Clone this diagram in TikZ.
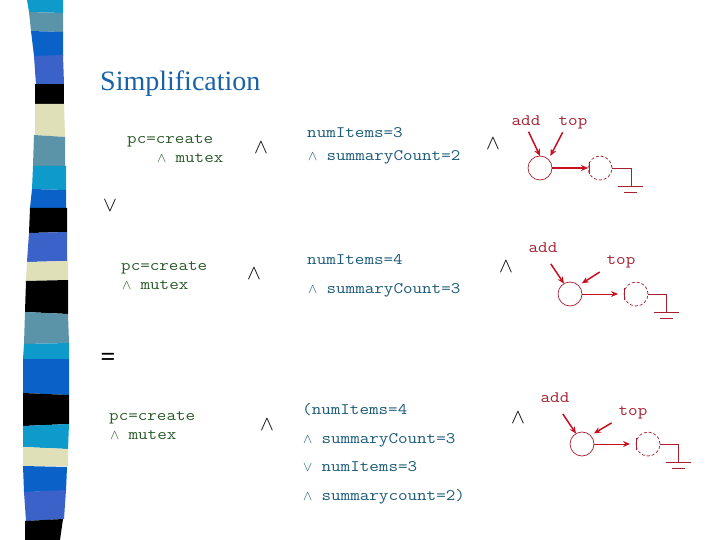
\documentclass[tikz,border=0pt]{standalone}
\usepackage{fontspec}
\setmainfont{Liberation Serif}
\newfontfamily\courf[FakeStretch=1.16]{Latin Modern Mono}
\usetikzlibrary{arrows.meta}
\definecolor{sCyan}{HTML}{0E9ACB}
\definecolor{sSteel}{HTML}{5B93A8}
\definecolor{sBlue}{HTML}{0A62C8}
\definecolor{sIndigo}{HTML}{3A62C8}
\definecolor{sBeige}{HTML}{E0E0B8}
\definecolor{tGreen}{HTML}{2A5A2A}
\definecolor{tTeal}{HTML}{1A5A78}
\definecolor{tTitle}{HTML}{1A62A8}
\definecolor{cRed}{HTML}{A82030}
\definecolor{aRed}{HTML}{C81020}
\newcommand{\wg}{\makebox[19.4pt][l]{\hspace{1pt}\scalebox{0.8}{$\wedge$}}}
\newcommand{\vy}{\makebox[19.4pt][l]{\hspace{1pt}\scalebox{0.8}{$\vee$}}}
\begin{document}
\begin{tikzpicture}[x=1pt,y=-1pt,
  mono/.style={font=\fontsize{16}{16}\selectfont\courf,anchor=base west,inner sep=0pt},
  pctext/.style={mono,text=tGreen},
  numtext/.style={mono,text=tTeal},
  lab/.style={font=\fontsize{16}{16}\selectfont\courf,text=cRed,inner sep=0pt,anchor=base},
  bigop/.style={font=\fontsize{20}{20}\selectfont,inner sep=0pt},
  solidc/.style={circle,draw=cRed,line width=0.7pt,minimum size=24pt,inner sep=0pt,outer sep=0pt},
  dashc/.style={solidc,dash pattern=on 3pt off 2pt},
  arr/.style={draw=aRed,line width=1.5pt,-{Stealth[length=7pt,width=6pt]}},
  wire/.style={draw=cRed,line width=0.7pt}]
\useasboundingbox (0,0) rectangle (720,540);
\fill[white] (0,0) rectangle (720,540);
% stripe
\fill[sCyan]  (27,0) -- (63,0) -- (63,13) -- (29,12) -- cycle;
\fill[sSteel] (29,12) -- (63,13) -- (63,32) -- (31,31) -- cycle;
\fill[sBlue]  (31,31) -- (63,32) -- (63,56) -- (34,56) -- cycle;
\fill[sIndigo](34,56) -- (63,55) -- (64,84) -- (36,85) -- cycle;
\fill[black]  (35,84) -- (64,84) -- (64,104) -- (35,104) -- cycle;
\fill[sBeige] (35,104) -- (64,104) -- (65,137) -- (35,135) -- cycle;
\fill[sSteel] (34,135) -- (65,137) -- (65,166) -- (33,166) -- cycle;
\fill[sCyan]  (33,166) -- (66,166) -- (66,190) -- (32,189) -- cycle;
\fill[sBlue]  (32,189) -- (66,190) -- (66,209) -- (30,208) -- cycle;
\fill[black]  (30,208) -- (67,208) -- (67,232) -- (29,233) -- cycle;
\fill[sIndigo](29,233) -- (67,232) -- (67,261) -- (27,262) -- cycle;
\fill[sBeige] (27,262) -- (68,261) -- (68,280) -- (26,281) -- cycle;
\fill[black]  (26,281) -- (68,280) -- (68,314) -- (25,312) -- cycle;
\fill[sSteel] (25,312) -- (68,314) -- (69,343) -- (24,344) -- cycle;
\fill[sCyan]  (24,344) -- (69,343) -- (69,359) -- (23,359) -- cycle;
\fill[sBlue]  (23,359) -- (69,359) -- (69,395) -- (23,393) -- cycle;
\fill[black]  (23,393) -- (69,395) -- (69,424) -- (23,426) -- cycle;
\fill[sCyan]  (23,426) -- (69,424) -- (68,449) -- (23,447) -- cycle;
\fill[sBeige] (23,447) -- (68,449) -- (68,466) -- (23,466) -- cycle;
\fill[sBlue]  (23,466) -- (67,467) -- (66,491) -- (24,492) -- cycle;
\fill[sIndigo](24,492) -- (66,490) -- (64,519) -- (26,521) -- cycle;
\fill[black]  (25,521) -- (63,519) -- (60,540) -- (25,540) -- cycle;
% title
\node[font=\fontsize{28}{28}\selectfont,text=tTitle,anchor=base west,inner sep=0pt] (title) at (100,91) {Simplification};
% left column
\node[pctext] (p1a) at (127,144) {pc=create};
\node[pctext] (p1b) at (156,163) {\wg mutex};
\node[pctext] (p2a) at (121,270) {pc=create};
\node[pctext] (p2b) at (121,289) {\wg mutex};
\node[pctext] (p3a) at (109,420) {pc=create};
\node[pctext] (p3b) at (109,439) {\wg mutex};
% operators
\node[bigop] (w1) at (261,148) {$\wedge$};
\node[bigop] (w2) at (254,274) {$\wedge$};
\node[bigop] (w3) at (267,425) {$\wedge$};
\node[bigop] (w4) at (493,144) {$\wedge$};
\node[bigop] (w5) at (506,267) {$\wedge$};
\node[bigop] (w6) at (518,418) {$\wedge$};
\node[bigop] (v1) at (110,206) {$\vee$};
\node[font=\fontsize{26}{26}\selectfont\bfseries,inner sep=0pt] (eq) at (108,359) {=};
% middle column
\node[numtext] (n1a) at (307,138) {numItems=3};
\node[numtext] (n1b) at (307,161) {\wg summaryCount=2};
\node[numtext] (n2a) at (307,264) {numItems=4};
\node[numtext] (n2b) at (307,293) {\wg summaryCount=3};
\node[numtext] (n3a) at (302,414) {(numItems=4};
\node[numtext] (n3b) at (302,443) {\wg summaryCount=3};
\node[numtext] (n3c) at (302,471) {\vy numItems=3};
\node[numtext] (n3d) at (302,500) {\wg summarycount=2)};
% circuit 1
\node[lab] (add1) at (526,126) {add};
\node[lab] (top1) at (573,126) {top};
\node[solidc] (c1) at (540,168) {};
\node[dashc] (d1) at (600,168) {};
\coordinate (g1) at (631,186);
\coordinate (g1l) at (618,186);
\coordinate (g1r) at (643,186);
\coordinate (h1l) at (624,192);
\coordinate (h1r) at (637,192);
\coordinate (b1t) at (589,162);
\coordinate (b1b) at (589,174);
\draw[arr,shorten <=6pt] (add1.south) -- (c1.north);
\draw[arr,shorten <=3pt,shorten >=4pt] ([xshift=-9pt]top1.south) -- (c1.45);
\draw[arr] (c1.east) -- (d1.west);
\draw[wire] (b1t) -- (b1b);
\draw[wire] (d1.east) -| (g1);
\draw[wire] (g1l) -- (g1r);
\draw[wire] (h1l) -- (h1r);
% circuit 2
\node[lab] (add2) at (543,252) {add};
\node[lab] (top2) at (621,264) {top};
\node[solidc] (c2) at (570,294) {};
\node[dashc] (d2) at (636,294) {};
\coordinate (g2) at (666,312);
\coordinate (g2l) at (654,312);
\coordinate (g2r) at (679,312);
\coordinate (h2l) at (660,318);
\coordinate (h2r) at (673,318);
\coordinate (b2t) at (624,288);
\coordinate (b2b) at (624,300);
\draw[arr,shorten <=14pt] (add2.south) -- (c2.120);
\draw[arr,shorten <=8pt,shorten >=4pt] (top2.south west) -- (c2.45);
\draw[arr,line width=1pt,shorten >=6pt] (c2.east) -- (d2.west);
\draw[wire] (b2t) -- (b2b);
\draw[wire] (d2.east) -| (g2);
\draw[wire] (g2l) -- (g2r);
\draw[wire] (h2l) -- (h2r);
% circuit 3
\node[lab] (add3) at (555,402) {add};
\node[lab] (top3) at (633,415) {top};
\node[solidc] (c3) at (582,444) {};
\node[dashc] (d3) at (648,444) {};
\coordinate (g3) at (678,462);
\coordinate (g3l) at (666,462);
\coordinate (g3r) at (691,462);
\coordinate (h3l) at (672,468);
\coordinate (h3r) at (685,468);
\coordinate (b3t) at (636,438);
\coordinate (b3b) at (636,450);
\draw[arr,shorten <=14pt] (add3.south) -- (c3.120);
\draw[arr,shorten <=8pt,shorten >=4pt] (top3.south west) -- (c3.45);
\draw[arr,line width=1pt,shorten >=6pt] (c3.east) -- (d3.west);
\draw[wire] (b3t) -- (b3b);
\draw[wire] (d3.east) -| (g3);
\draw[wire] (g3l) -- (g3r);
\draw[wire] (h3l) -- (h3r);
\end{tikzpicture}
\end{document}
